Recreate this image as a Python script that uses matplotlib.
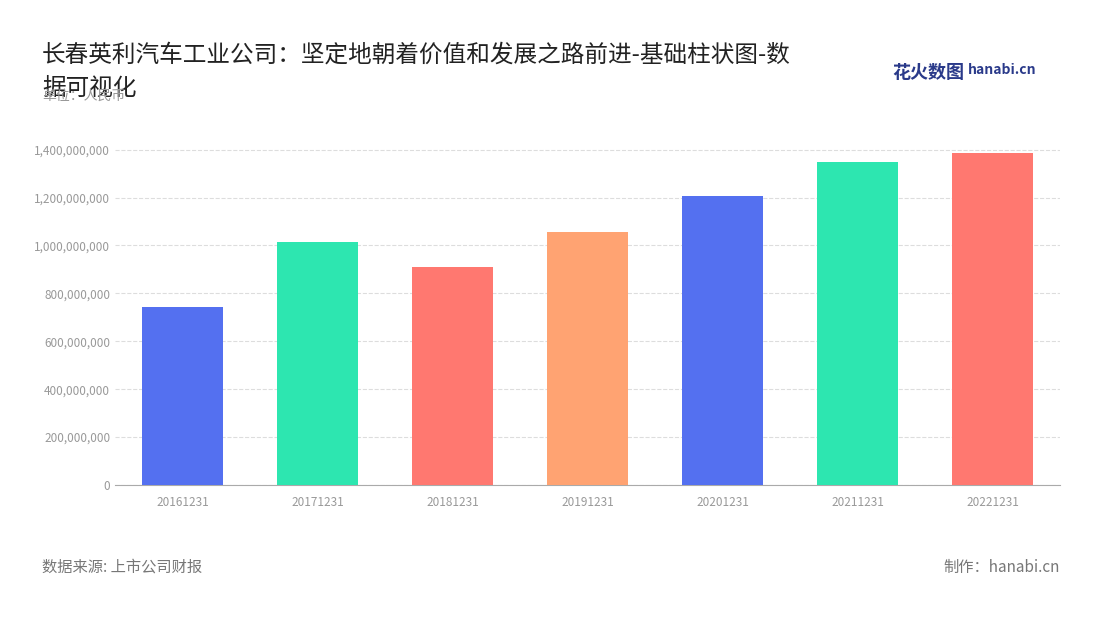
import matplotlib.pyplot as plt
from matplotlib.ticker import FuncFormatter

plt.rcParams['font.family'] = ['Noto Sans CJK SC', 'DejaVu Sans']

years = ['20161231', '20171231', '20181231', '20191231', '20201231', '20211231', '20221231']
revenue = [744000000, 1015000000, 911000000, 1057000000, 1208000000, 1350000000, 1387000000]
colors = ['#5470F0', '#2DE6B0', '#FF7870', '#FFA372', '#5470F0', '#2DE6B0', '#FF7870']

fig = plt.figure(figsize=(11, 6.2), dpi=100)
ax = fig.add_axes([115/1100, 1-485/620, 945/1100, 345/620])

x = range(len(years))
ax.bar(x, revenue, width=0.6, color=colors, zorder=3)
ax.set_xlim(-0.5, 6.5)
ax.set_ylim(0, 1.44e9)
ax.set_yticks([i*2e8 for i in range(8)])
ax.yaxis.set_major_formatter(FuncFormatter(lambda v, p: f'{int(v):,}'))
ax.set_xticks(list(x))
ax.set_xticklabels(years)
ax.tick_params(axis='both', colors='#999999', labelsize=8.5, length=0)
ax.tick_params(axis='x', pad=8)
ax.grid(axis='y', linestyle='--', color='#dddddd', zorder=0)
for s in ['top', 'right', 'left']:
    ax.spines[s].set_visible(False)
ax.spines['bottom'].set_color('#aaaaaa')

fig.text(42/1100, 1-55/620, '长春英利汽车工业公司：坚定地朝着价值和发展之路前进-基础柱状图-数',
         fontsize=17, color='#222222', va='center')
fig.text(42/1100, 1-88/620, '据可视化', fontsize=17, color='#222222', va='center')
fig.text(42/1100, 1-96/620, '单位：人民币', fontsize=10, color='#999999', va='center')
fig.text(42/1100, 1-567/620, '数据来源: 上市公司财报', fontsize=11, color='#777777', va='center')
fig.text(1060/1100, 1-567/620, '制作：hanabi.cn', fontsize=11, color='#777777', va='center', ha='right')
fig.text(892/1100, 1-72/620, '花火数图', fontsize=13, color='#2a3a8a', va='center', weight='bold')
fig.text(968/1100, 1-70/620, 'hanabi.cn', fontsize=10, color='#2a3a8a', va='center', weight='bold')

fig.savefig('out.png')
